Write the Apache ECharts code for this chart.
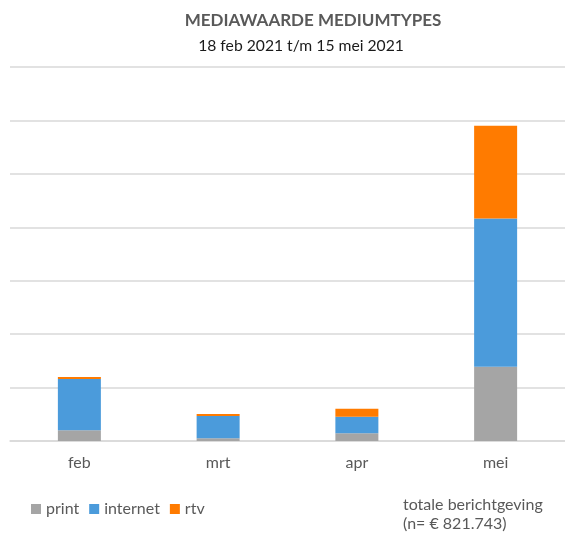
<!DOCTYPE html>
<html>
<head>
<meta charset="utf-8">
<script src="https://cdn.jsdelivr.net/npm/echarts@6/dist/echarts.min.js"></script>
<style>
  html, body { margin: 0; padding: 0; background: #fff; }
  #chart { width: 565px; height: 537px; }
</style>
</head>
<body>
<div id="chart"></div>
<script>
// maanden en mediawaarde per mediumtype (euro)
const months = ["feb", "mrt", "apr", "mei"];
const printVals = [20000, 5000, 14400, 138900];
const internetVals = [96000, 41700, 31000, 277400];
const rtvVals = [3700, 3700, 15000, 173800];

const font = "Lato";
const chart = echarts.init(document.getElementById("chart"));

const seriesDef = (name, data, color) => ({
  name: name,
  type: "bar",
  stack: "totaal",
  data: data,
  barWidth: 43,
  itemStyle: { color: color },
});

chart.setOption({
  animation: false,
  title: [
    {
      text: "MEDIAWAARDE MEDIUMTYPES",
      left: 308,
      textAlign: "center",
      top: 7,
      textStyle: { fontFamily: font, fontSize: 17, fontWeight: "bold", color: "#595959" },
    },
    {
      text: "18 feb 2021 t/m 15 mei 2021",
      left: 296,
      textAlign: "center",
      top: 33,
      textStyle: { fontFamily: font, fontSize: 15.7, fontWeight: "normal", color: "#1a1a1a" },
    },
    {
      text: "totale berichtgeving\n(n= € 821.743)",
      left: 398,
      top: 490,
      textStyle: { fontFamily: font, fontSize: 16, fontWeight: "normal", color: "#595959", lineHeight: 19 },
    },
  ],
  legend: {
    left: 26,
    top: 496,
    itemWidth: 10,
    itemHeight: 10,
    itemGap: 10,
    icon: "rect",
    textStyle: { fontFamily: font, fontSize: 16, color: "#595959" },
    data: ["print", "internet", "rtv"],
  },
  grid: { left: 10, top: 67, width: 558, height: 374 },
  xAxis: {
    type: "category",
    data: months,
    axisLine: { lineStyle: { color: "#d9d9d9", width: 1.5 } },
    axisTick: { show: false },
    axisLabel: { fontFamily: font, fontSize: 16, color: "#595959", margin: 14 },
  },
  yAxis: {
    type: "value",
    min: 0,
    max: 700000,
    interval: 100000,
    axisLabel: { show: false },
    axisLine: { show: false },
    axisTick: { show: false },
    splitLine: { lineStyle: { color: "#d9d9d9", width: 1.5 } },
  },
  series: [
    seriesDef("print", printVals, "#a5a5a5"),
    seriesDef("internet", internetVals, "#4b9bdb"),
    seriesDef("rtv", rtvVals, "#ff7b00"),
  ],
});
</script>
</body>
</html>
